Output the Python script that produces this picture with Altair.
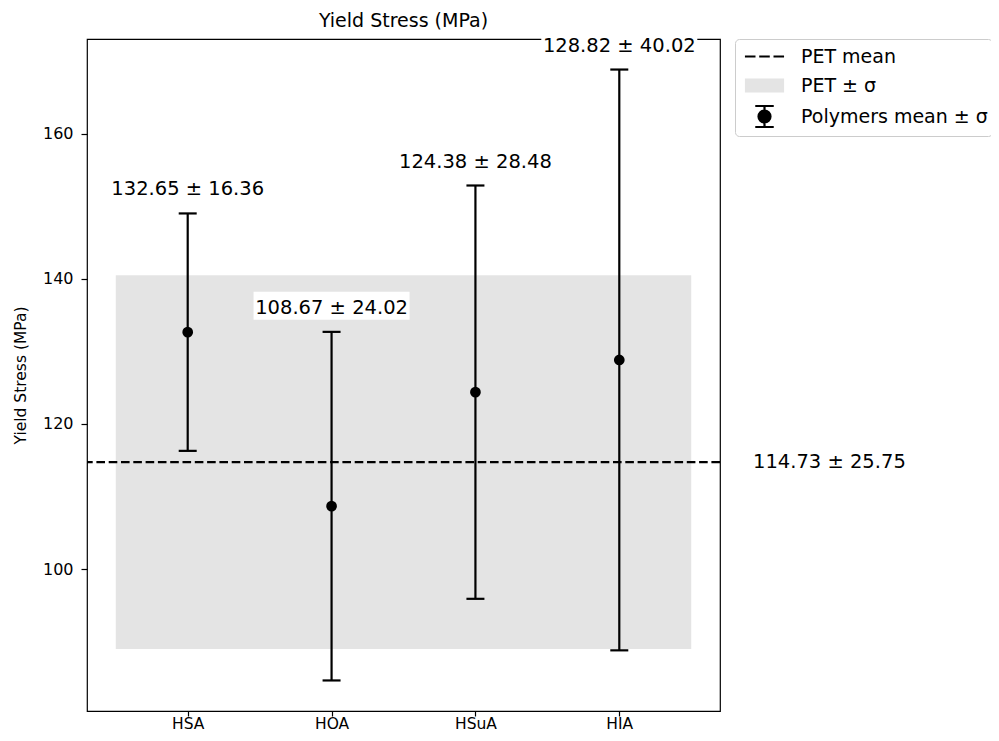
import altair as alt
import pandas as pd

# ---- data ----
categories = ["HSA", "HOA", "HSuA", "HIA"]
means = [132.65, 108.67, 124.38, 128.82]
stds = [16.36, 24.02, 28.48, 40.02]
pet_mean = 114.73
pet_std = 25.75
y_ticks = [100, 120, 140, 160]
legend_labels = ["PET mean", "PET \u00b1 \u03c3", "Polymers mean \u00b1 \u03c3"]
chart_title = ["Yield Stress (MPa)"]

# ---- tables ----
n = len(categories)
df = pd.DataFrame({
    "cat": categories,
    "pos": list(range(n)),
    "mean": means,
    "std": stds,
})
df["lo"] = df["mean"] - df["std"]
df["hi"] = df["mean"] + df["std"]
df["label"] = [f"{m:.2f} \u00b1 {s:.2f}" for m, s in zip(means, stds)]

pet_df = pd.DataFrame({
    "pet": [pet_mean],
    "lo": [pet_mean - pet_std],
    "hi": [pet_mean + pet_std],
    "x0": [-0.5],
    "x1": [n - 0.5],
    "label": [f"{pet_mean:.2f} \u00b1 {pet_std:.2f}"],
})

legend_df = pd.DataFrame({"entry": legend_labels, "pos": [None] * 3, "val": [None] * 3})
title_df = pd.DataFrame({"t": chart_title})

# matplotlib-like autoscale with 5% margins
ymin = min(df["lo"].min(), pet_mean - pet_std)
ymax = max(df["hi"].max(), pet_mean + pet_std)
ym = 0.05 * (ymax - ymin)
y_dom = [ymin - ym, ymax + ym]
x_dom = [-0.7, n - 1 + 0.7]

FONT = "DejaVu Sans"
x_scale = alt.Scale(domain=x_dom, nice=False, zero=False)
y_scale = alt.Scale(domain=y_dom, nice=False, zero=False)

label_expr = "[" + ",".join(f"'{c}'" for c in categories) + "][datum.value]"

x_axis = alt.Axis(values=list(range(n)), labelExpr=label_expr, title=None, grid=False,
                  domain=False, tickSize=5, tickWidth=1.2, tickColor="black",
                  labelFontSize=15.5, labelColor="black", labelPadding=0, labelFont=FONT)
y_axis = alt.Axis(values=y_ticks, format="d", title="Yield Stress (MPa)", grid=False,
                  domain=False, tickSize=6, tickWidth=1.2, tickColor="black",
                  labelFontSize=16, labelColor="black", labelPadding=8, labelFont=FONT,
                  titleFontSize=15.5, titleFontWeight="normal", titleColor="black",
                  titleFont=FONT, titlePadding=14)

base = alt.Chart(df)

band = alt.Chart(pet_df).mark_rect(color="#e4e4e4").encode(
    x=alt.X("x0:Q", scale=x_scale, axis=x_axis),
    x2="x1:Q",
    y=alt.Y("lo:Q", scale=y_scale, axis=y_axis),
    y2="hi:Q",
)

pet_line = alt.Chart(pet_df).mark_rule(color="black", strokeWidth=2.2, strokeDash=[8.6, 3.7]).encode(
    y="pet:Q"
)

pet_text = alt.Chart(pet_df).mark_text(align="left", baseline="middle", dx=33, fontSize=19.5,
                                        font=FONT, color="black").encode(
    x=alt.datum(x_dom[1]),
    y="pet:Q",
    text="label:N",
)

err = base.mark_rule(color="black", strokeWidth=2.2).encode(
    x="pos:Q", y="lo:Q", y2="hi:Q"
)

caps = base.transform_fold(["lo", "hi"], as_=["which", "val"]).mark_rule(
    color="black", strokeWidth=2.2, xOffset=-9, x2Offset=9
).encode(x="pos:Q", x2="pos:Q", y="val:Q")

pts = base.mark_circle(color="black", size=115, opacity=1).encode(x="pos:Q", y="mean:Q")

label_bg = base.mark_rect(color="white", xOffset=-78, x2Offset=78, yOffset=-40, y2Offset=-12).encode(
    x="pos:Q", x2="pos:Q", y="hi:Q", y2="hi:Q"
)

labels = base.mark_text(baseline="alphabetic", dy=-18, fontSize=19.5, font=FONT, color="black").encode(
    x="pos:Q", y="hi:Q", text="label:N"
)

title_mark = alt.Chart(title_df).mark_text(baseline="alphabetic", dy=-12, fontSize=19, font=FONT,
                                            color="black").encode(
    x=alt.datum(sum(x_dom) / 2),
    y=alt.datum(y_dom[1]),
    text="t:N",
)

# legend carried by an invisible layer (null positions are filtered out)
dash_path = "M-1.63,0H-0.75M-0.44,0H0.44M0.75,0H1.63"
rect_path = "M-1.54,-0.49H1.54V0.49H-1.54Z"
eb_path = ("M0,-0.875V0.875M-0.77,-0.875H0.77M-0.77,0.875H0.77"
           "M0.5,0A0.5,0.5,0,1,1,-0.5,0A0.5,0.5,0,1,1,0.5,0Z")

leg = alt.Legend(title=None, orient="none", legendX=648, legendY=0, padding=4,
                 symbolSize=576, symbolOffset=12, labelOffset=23, labelFontSize=19,
                 labelFont=FONT, labelColor="black", labelLimit=400, rowPadding=5,
                 strokeColor="#cccccc", fillColor="white", cornerRadius=4,
                 symbolStrokeWidth=2.2, symbolOpacity=1)

legend_layer = alt.Chart(legend_df).mark_point(filled=True).encode(
    x="pos:Q",
    y="val:Q",
    shape=alt.Shape("entry:N", scale=alt.Scale(domain=legend_labels,
                                               range=[dash_path, rect_path, eb_path]), legend=leg),
    fill=alt.Fill("entry:N", scale=alt.Scale(domain=legend_labels,
                                             range=["black", "#e4e4e4", "black"]), legend=leg),
    stroke=alt.Stroke("entry:N", scale=alt.Scale(domain=legend_labels,
                                                 range=["black", "#e4e4e4", "black"]), legend=leg),
)

chart = alt.layer(
    band, pet_line, err, caps, pts, label_bg, labels, pet_text, title_mark, legend_layer
).properties(
    width=633,
    height=672,
    autosize=alt.AutoSizeParams(type="none"),
    padding={"left": 79, "top": 31, "right": 271, "bottom": 22},
).configure(
    font=FONT
).configure_view(
    stroke="black", strokeWidth=1.2
)

chart.save("out.html", embed_options={"renderer": "svg", "actions": False})
